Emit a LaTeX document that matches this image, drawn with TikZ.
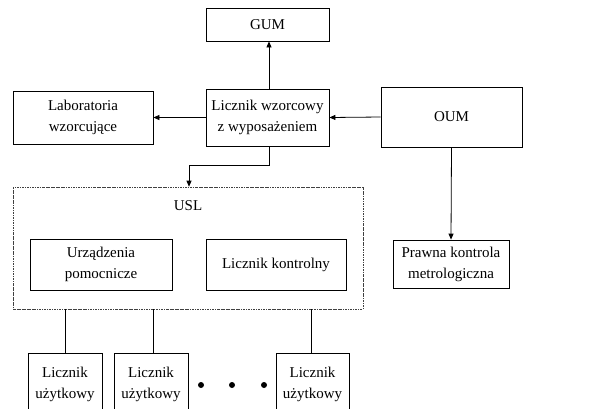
\documentclass[tikz,border=0pt]{standalone}
\usepackage{fontspec}
\setmainfont{Liberation Serif}
\usetikzlibrary{arrows.meta}
\begin{document}
\begin{tikzpicture}[x=1pt,y=1pt,
  font=\fontsize{15}{21}\selectfont,
  box/.style={draw,line width=0.8pt,align=center,inner sep=0pt,minimum width=#1},
  arr/.style={line width=0.8pt,-{Triangle[length=6pt,width=5pt]}},
  ln/.style={line width=0.8pt},
  dashbox/.style={draw=black!75,line width=0.6pt,dash pattern=on 2.5pt off 1pt on 0.6pt off 1pt,inner sep=0pt},
  dot/.style={circle,fill,inner sep=0pt,minimum size=6pt}]
\clip (0,0) rectangle (596,-408);
\fill[white] (0,0) rectangle (596,-408);
\node[box=123pt,minimum height=33pt] (gum) at (267.5,-24.5) {GUM};
\node[box=140pt,minimum height=53pt] (lab) at (83,-117.5) {Laboratoria\\wzorcujące};
\node[box=123pt,minimum height=57pt] (lw) at (267.5,-117.5) {Licznik wzorcowy\\z wyposażeniem};
\node[box=141pt,minimum height=60pt] (oum) at (451.5,-117) {OUM};
\node[dashbox,minimum width=350pt,minimum height=122pt] (usl) at (188,-248) {};
\node (usllabel) at (188,-206) {USL};
\node[box=142pt,minimum height=51pt] (urz) at (101,-264.5) {Urządzenia\\pomocnicze};
\node[box=140pt,minimum height=51pt] (lk) at (276,-264.5) {Licznik kontrolny};
\node[box=116pt,minimum height=48pt] (pkm) at (451,-264) {Prawna kontrola\\metrologiczna};
\node[box=74pt,minimum height=62pt] (b1) at (65,-384) {Licznik\\użytkowy};
\node[box=74pt,minimum height=62pt] (b2) at (151,-384) {Licznik\\użytkowy};
\node[box=73pt,minimum height=62pt] (b3) at (312.5,-384) {Licznik\\użytkowy};
\node[dot] (d1) at (201,-385) {};
\node[dot] (d2) at (232,-385) {};
\node[dot] (d3) at (264,-385) {};
\coordinate (bend1) at (269,-165);
\coordinate (bend2) at (189,-165);
\draw[arr] (lw.north -| 269,0) -- (gum.south -| 269,0);
\draw[arr] (lw.west) -- (lab.east);
\draw[arr] (oum.west) -- (lw.east);
\draw[arr] (lw.south -| bend1) -- (bend1) -- (bend2) -- (usl.north -| bend2);
\draw[arr] (oum.south) -- (pkm.north);
\draw[ln] (usl.south -| b1) -- (b1.north);
\draw[ln] (usl.south -| 153,0) -- (b2.north -| 153,0);
\draw[ln] (usl.south -| 311,0) -- (b3.north -| 311,0);
\end{tikzpicture}
\end{document}
